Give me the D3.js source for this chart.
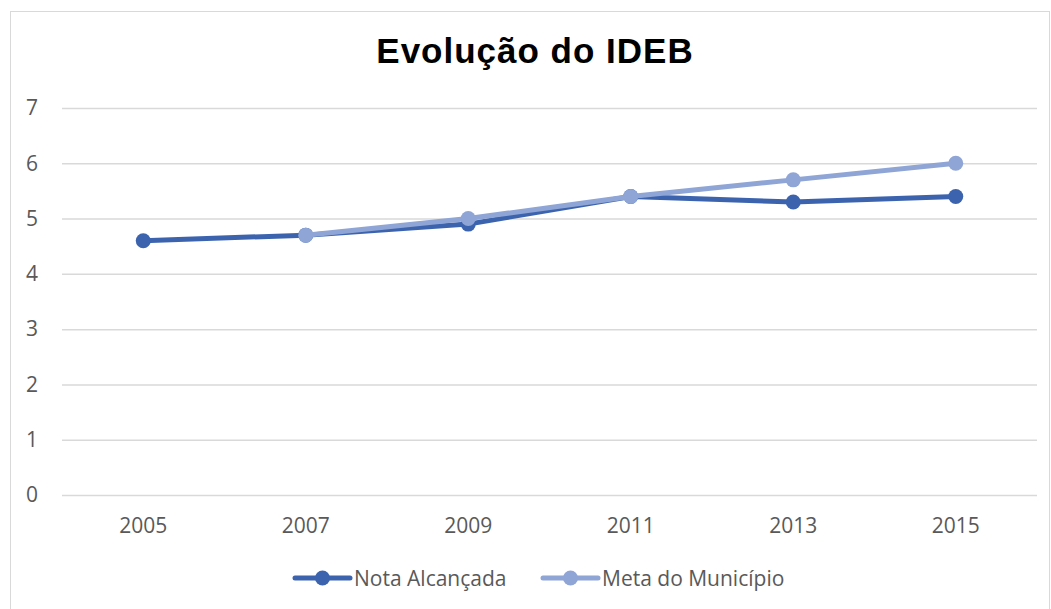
<!DOCTYPE html>
<html><head><meta charset="utf-8">
<script src="https://cdn.jsdelivr.net/npm/d3@7"></script>
<style>body{margin:0;background:#fff}svg{display:block}</style>
</head><body>
<svg id="c" width="1051" height="609"></svg>
<script>
const years = ["2005","2007","2009","2011","2013","2015"];
const notaAlcancada = [4.6, 4.7, 4.9, 5.4, 5.3, 5.4];
const metaMunicipio = [null, 4.7, 5.0, 5.4, 5.7, 6.0];
const yTicks = [0,1,2,3,4,5,6,7];
const seriesNames = ["Nota Alcançada","Meta do Município"];
const colors = ["#3C64AE","#8FA5D6"];

(function(){
const svg = d3.select("#c");
const W = 1051, H = 609;
svg.append("rect").attr("x",10.5).attr("y",11.5).attr("width",W-12).attr("height",H+10)
  .attr("fill","#fff").attr("stroke","#d9d9d9").attr("stroke-width",1);

const mL = 62, mR = 1037, mT = 108, mB = 495;
const x = d3.scaleBand().domain(years).range([mL,mR]);
const y = d3.scaleLinear().domain([0,7]).range([mB,mT]);
const font = "'Open Sans', 'Noto Sans', sans-serif";

svg.append("text").attr("x",535).attr("y",63).attr("text-anchor","middle")
  .attr("font-family","'Liberation Sans', Arial, sans-serif").attr("font-weight","bold")
  .attr("font-size",35).attr("letter-spacing",1).attr("fill","#000").text("Evolução do IDEB");

const ga = svg.append("g").attr("transform",`translate(${mL},0)`)
  .call(d3.axisLeft(y).tickValues(yTicks).tickSize(-(mR-mL)).tickPadding(24).tickFormat(d3.format("d")));
ga.select(".domain").remove();
ga.selectAll(".tick line").attr("stroke","#d9d9d9").attr("stroke-width",1.5);
ga.selectAll(".tick text").attr("font-family",font).attr("font-size",21).attr("fill","#595959");

const gx = svg.append("g").attr("transform",`translate(0,${mB})`)
  .call(d3.axisBottom(x).tickSize(0).tickPadding(23));
gx.select(".domain").remove();
gx.selectAll(".tick text").attr("font-family",font).attr("font-size",21).attr("fill","#595959");

const data = [notaAlcancada, metaMunicipio];
const line = d3.line().defined(d=>d.v!=null).x(d=>x(d.k)+x.bandwidth()/2).y(d=>y(d.v));
data.forEach((vals,i)=>{
  const pts = years.map((k,j)=>({k, v: vals[j]}));
  svg.append("path").datum(pts).attr("d",line).attr("fill","none")
    .attr("stroke",colors[i]).attr("stroke-width",5).attr("stroke-linejoin","round").attr("stroke-linecap","round");
  svg.selectAll(null).data(pts.filter(d=>d.v!=null)).enter().append("circle")
    .attr("cx",d=>x(d.k)+x.bandwidth()/2).attr("cy",d=>y(d.v)).attr("r",7.5).attr("fill",colors[i]);
});

const legendX = [295, 543];
seriesNames.forEach((n,i)=>{
  const g = svg.append("g").attr("transform",`translate(${legendX[i]},578)`);
  g.append("line").attr("x1",0).attr("x2",55).attr("stroke",colors[i]).attr("stroke-width",5).attr("stroke-linecap","round");
  g.append("circle").attr("cx",27.5).attr("r",7.5).attr("fill",colors[i]);
  g.append("text").attr("x",59).attr("dy","0.36em").attr("font-family",font).attr("font-size",21)
    .attr("fill","#595959").text(n);
});
})();
</script>
</body></html>
